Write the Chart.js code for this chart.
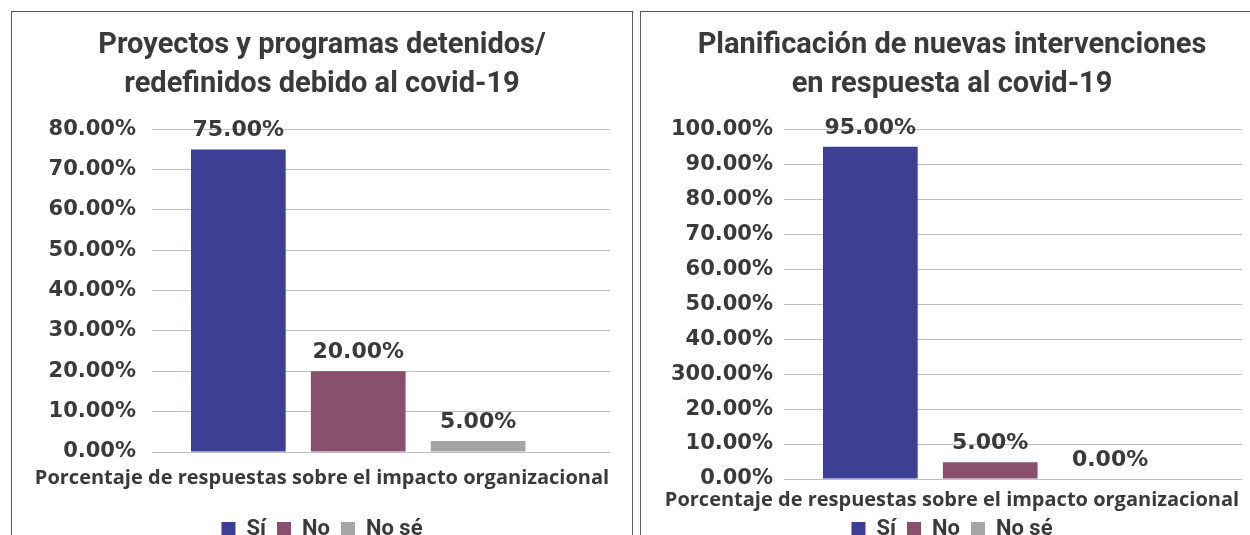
<!DOCTYPE html>
<html lang="es">
<head>
<meta charset="utf-8">
<title>Impacto del covid-19</title>
<script src="https://cdn.jsdelivr.net/npm/chart.js@4.4.1/dist/chart.umd.min.js"></script>
<style>
  html, body { margin: 0; padding: 0; background: #fff; overflow: hidden; }
  body { width: 1250px; height: 535px; position: relative; }
  .marco { position: absolute; top: 11px; height: 600px; border: 1.5px solid #5a5a5a; box-sizing: border-box; }
  #marcoIzq { left: 11px; width: 622px; }
  #marcoDer { left: 640px; width: 630px; }
  .caja { position: absolute; top: 13px; height: 537px; }
  #cajaIzq { left: 13px; width: 618px; }
  #cajaDer { left: 642px; width: 620px; }
</style>
</head>
<body>
<div class="marco" id="marcoIzq"></div>
<div class="marco" id="marcoDer"></div>
<div class="caja" id="cajaIzq"><canvas id="graficoIzq"></canvas></div>
<div class="caja" id="cajaDer"><canvas id="graficoDer"></canvas></div>
<script>
// DATA: respuestas sobre el impacto organizacional del covid-19
var categorias = ['Sí', 'No', 'No sé'];
var posiciones = [0, 1, 2];
var colores = ['#3d3f94', '#8b4f6e', '#a5a5a5'];
var tituloEje = 'Porcentaje de respuestas sobre el impacto organizacional';

// Gráfico izquierdo
var tituloIzq = ['Proyectos y programas detenidos/', 'redefinidos debido al covid-19'];
var valoresIzq = [75, 20, 2.7];
var etiquetasIzq = ['75.00%', '20.00%', '5.00%'];
var ticksIzq = ['0.00%', '10.00%', '20.00%', '30.00%', '40.00%', '50.00%', '60.00%', '70.00%', '80.00%'];

// Gráfico derecho
var tituloDer = ['Planificación de nuevas intervenciones', 'en respuesta al covid-19'];
var valoresDer = [95, 4.8, 0];
var etiquetasDer = ['95.00%', '5.00%', '0.00%'];
var ticksDer = ['0.00%', '10.00%', '20.00%', '300.00%', '40.00%', '50.00%', '60.00%', '70.00%', '80.00%', '90.00%', '100.00%'];

var gris = '#3a3a3a';

// etiquetas encima de cada barra
var pluginEtiquetas = {
  id: 'etiquetas',
  afterDatasetsDraw: function (chart, args, opts) {
    var ctx = chart.ctx;
    ctx.save();
    ctx.font = 'bold 22px "DejaVu Sans"';
    ctx.fillStyle = gris;
    ctx.textAlign = 'center';
    ctx.textBaseline = 'middle';
    chart.data.datasets.forEach(function (ds, i) {
      var barra = chart.getDatasetMeta(i).data[0];
      ctx.fillText(opts.textos[i], barra.x, barra.y - 19);
    });
    ctx.restore();
  }
};

function crearGrafico(id, titulo, valores, etiquetas, ticks, maxY, anchoEje, rellenoTicks, margenDer, fuenteX, rellenoTituloX) {
  var ctx = document.getElementById(id).getContext('2d');
  return new Chart(ctx, {
    type: 'bar',
    data: {
      datasets: categorias.map(function (nombre, i) {
        return {
          label: nombre,
          data: [{ x: posiciones[i], y: valores[i] }],
          backgroundColor: colores[i],
          borderWidth: 0,
          grouped: false,
          categoryPercentage: 1,
          barPercentage: 0.79
        };
      })
    },
    options: {
      responsive: true,
      maintainAspectRatio: false,
      animation: false,
      layout: { padding: 0 },
      scales: {
        x: {
          type: 'linear',
          min: -0.72,
          max: 3.1,
          offset: false,
          ticks: { display: false, stepSize: 1, includeBounds: false },
          grid: { display: false },
          border: { display: false }
        },
        y: {
          min: 0,
          max: maxY,
          afterFit: function (escala) { escala.width = anchoEje; },
          ticks: {
            stepSize: 10,
            padding: rellenoTicks,
            color: gris,
            font: { family: 'DejaVu Sans', size: 21, weight: 'bold' },
            callback: function (valor, indice) { return ticks[indice]; }
          },
          grid: { color: '#c0c0c0', drawTicks: false },
          border: { display: false }
        },
        // eje vacío a la derecha, solo deja el margen
        margen: {
          position: 'right',
          ticks: { display: false },
          grid: { display: false },
          border: { display: false },
          afterFit: function (escala) { escala.width = margenDer; }
        }
      },
      plugins: {
        title: {
          display: true,
          text: titulo,
          color: gris,
          font: { family: 'Roboto', size: 29, weight: 'bold', lineHeight: 1.35 },
          padding: { top: 13, bottom: 25 }
        },
        subtitle: {
          display: true,
          position: 'bottom',
          text: tituloEje,
          color: gris,
          font: fuenteX,
          padding: rellenoTituloX
        },
        legend: {
          position: 'bottom',
          weight: 2500,
          labels: {
            boxWidth: 14,
            boxHeight: 14,
            padding: 11,
            color: gris,
            font: { family: 'Roboto', size: 22, weight: 'bold' }
          }
        },
        tooltip: { enabled: false },
        etiquetas: { textos: etiquetas }
      }
    },
    plugins: [pluginEtiquetas]
  });
}

crearGrafico('graficoIzq', tituloIzq, valoresIzq, etiquetasIzq, ticksIzq, 80, 139, 16, 21,
  { family: 'Open Sans', size: 20, weight: 'bold', lineHeight: 1.2 }, { top: 6, bottom: 17 });
crearGrafico('graficoDer', tituloDer, valoresDer, etiquetasDer, ticksDer, 100, 142, 11, 20,
  { family: 'Open Sans', size: 20, weight: 'bold', lineHeight: 1 }, { top: 3, bottom: -3 });
</script>
</body>
</html>
